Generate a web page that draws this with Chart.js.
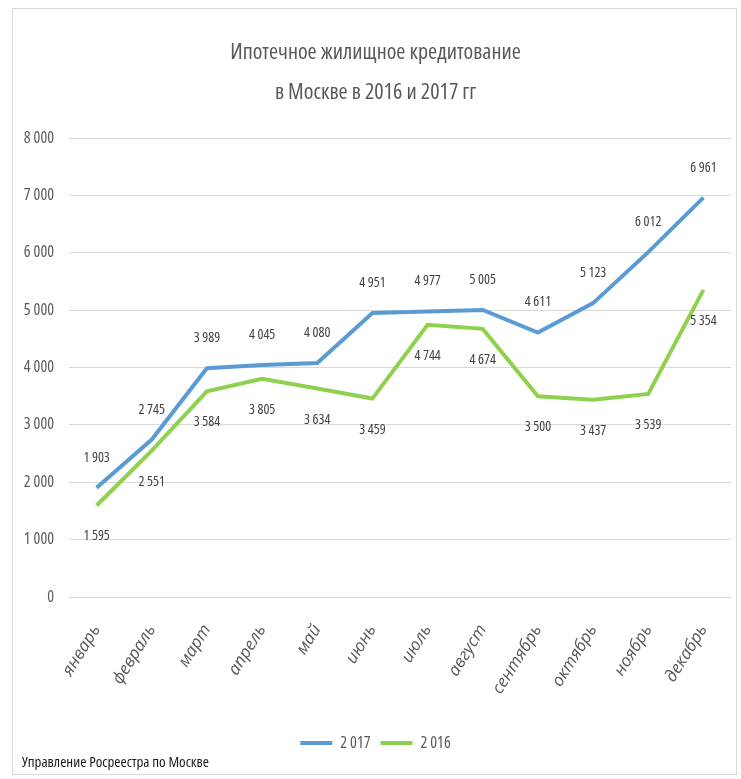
<!DOCTYPE html>
<html>
<head>
<meta charset="utf-8">
<script src="https://cdn.jsdelivr.net/npm/chart.js@4.4.1/dist/chart.umd.min.js"></script>
<style>
  html, body { margin: 0; padding: 0; background: #fff; }
  #wrap { position: relative; width: 741px; height: 779px; }
  #frame { position: absolute; left: 12px; top: 8px; width: 725px; height: 767px; border: 1px solid #d9d9d9; box-sizing: border-box; }
  #mortgageChart { position: absolute; left: 0; top: 0; }
  #source { position: absolute; left: 22px; top: 751px; font-family: 'Open Sans', sans-serif; font-stretch: condensed; font-size: 15px; color: #1a1a1a; }
</style>
</head>
<body>
<div id="wrap">
  <div id="frame"></div>
  <canvas id="mortgageChart" width="741" height="779"></canvas>
  <div id="source">Управление Росреестра по Москве</div>
</div>
<script>
// months
var months = ["январь", "февраль", "март", "апрель", "май", "июнь", "июль", "август", "сентябрь", "октябрь", "ноябрь", "декабрь"];

// number of mortgage registrations per month
var year2017 = [1903, 2745, 3989, 4045, 4080, 4951, 4977, 5005, 4611, 5123, 6012, 6961];
var year2016 = [1595, 2551, 3584, 3805, 3634, 3459, 4744, 4674, 3500, 3437, 3539, 5354];

var seriesNames = ["2 017", "2 016"];
var titleLines = ["Ипотечное жилищное кредитование", "в Москве в 2016 и 2017 гг"];

var family = "'Open Sans', sans-serif";
// chart.js glues weight in front of the size, so "condensed" ends up in the font shorthand
var narrowWeight = "condensed";

function spaced(v) {
    return String(v).replace(/\B(?=(\d{3})+(?!\d))/g, " ");
}

// value labels: 2017 above the line, 2016 below
var pointLabels = {
    id: "pointLabels",
    afterDatasetsDraw: function (chart) {
        var ctx = chart.ctx;
        ctx.save();
        ctx.font = "condensed 14px " + family;
        ctx.fillStyle = "#404040";
        ctx.textAlign = "center";
        ctx.textBaseline = "middle";
        chart.data.datasets.forEach(function (ds, i) {
            var meta = chart.getDatasetMeta(i);
            var shift = i === 0 ? -30 : 31;
            meta.data.forEach(function (pt, j) {
                ctx.fillText(spaced(ds.data[j]), pt.x, pt.y + shift);
            });
        });
        ctx.restore();
    }
};

new Chart("mortgageChart", {
    type: "line",
    data: {
        labels: months,
        datasets: [{
            label: seriesNames[0],
            data: year2017,
            borderColor: "#5b9bd5",
            backgroundColor: "#5b9bd5",
            borderWidth: 4,
            pointRadius: 0,
            lineTension: 0,
            fill: false
        }, {
            label: seriesNames[1],
            data: year2016,
            borderColor: "#8fd14f",
            backgroundColor: "#8fd14f",
            borderWidth: 4,
            pointRadius: 0,
            lineTension: 0,
            fill: false
        }]
    },
    options: {
        responsive: false,
        animation: false,
        layout: { padding: { top: 33, left: 20, right: 10, bottom: 18 } },
        plugins: {
            title: {
                display: true,
                text: titleLines,
                color: "#595959",
                font: { family: family, size: 22, weight: narrowWeight, lineHeight: 1.82 },
                padding: { top: 0, bottom: 25 }
            },
            legend: {
                position: "bottom",
                labels: {
                    usePointStyle: true,
                    pointStyle: "line",
                    pointStyleWidth: 32,
                    color: "#595959",
                    font: { family: family, size: 16, weight: narrowWeight },
                    padding: 10
                }
            },
            tooltip: { enabled: false }
        },
        scales: {
            x: {
                offset: true,
                grid: { display: false },
                border: { display: false },
                ticks: {
                    minRotation: 58,
                    maxRotation: 58,
                    padding: 16,
                    color: "#595959",
                    font: { family: family, size: 17, style: "italic" }
                },
                afterFit: function (scale) { scale.height = 128; }
            },
            y: {
                min: 0,
                max: 8000,
                grid: { color: "#d9d9d9", drawTicks: false },
                border: { display: false },
                ticks: {
                    stepSize: 1000,
                    padding: 15,
                    color: "#595959",
                    font: { family: family, size: 16, weight: narrowWeight },
                    callback: function (v) { return spaced(v); }
                },
                afterFit: function (scale) { scale.width = 49; }
            }
        }
    },
    plugins: [pointLabels]
});
</script>
</body>
</html>
